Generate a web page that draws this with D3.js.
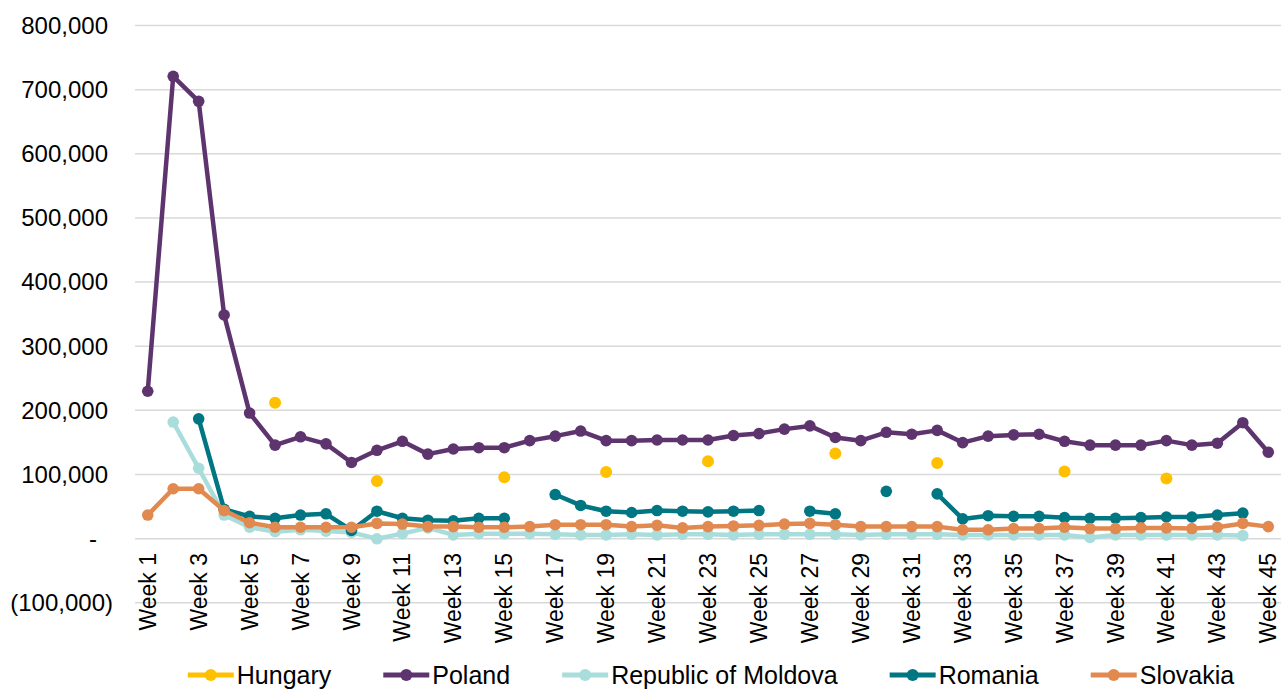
<!DOCTYPE html>
<html>
<head>
<meta charset="utf-8">
<script src="https://cdn.jsdelivr.net/npm/d3@7"></script>
<style>
  html, body { margin: 0; padding: 0; background: #fff; }
  svg { display: block; font-family: "Liberation Sans", Arial, sans-serif; }
</style>
</head>
<body>
<svg id="chart" width="1281" height="689"></svg>
<script>
const weeks = ["Week 1","Week 2","Week 3","Week 4","Week 5","Week 6","Week 7","Week 8","Week 9","Week 10",
  "Week 11","Week 12","Week 13","Week 14","Week 15","Week 16","Week 17","Week 18","Week 19","Week 20",
  "Week 21","Week 22","Week 23","Week 24","Week 25","Week 26","Week 27","Week 28","Week 29","Week 30",
  "Week 31","Week 32","Week 33","Week 34","Week 35","Week 36","Week 37","Week 38","Week 39","Week 40",
  "Week 41","Week 42","Week 43","Week 44","Week 45"];

const hungary = [null,null,null,null,null,211000,null,null,null,89000,
  null,null,null,null,95000,null,null,null,103000,null,
  null,null,120000,null,null,null,null,132000,null,null,
  null,117000,null,null,null,null,104000,null,null,null,
  93000,null,null,null,null];

const poland = [229000,720000,681000,348000,195000,145000,158000,147000,118000,137000,
  151000,131000,139000,141000,141000,152000,159000,167000,152000,152000,
  153000,153000,153000,160000,163000,170000,175000,157000,152000,165000,
  162000,168000,149000,159000,161000,162000,151000,145000,145000,145000,
  152000,145000,148000,180000,134000];

const moldova = [null,181000,109000,36000,17000,10000,13000,11000,9000,-1000,
  7000,16000,5000,7000,7000,7000,6000,5000,5000,6000,
  5000,6000,6000,5000,6000,6000,6000,6000,5000,6000,
  6000,6000,5000,5000,5000,5000,5000,1000,5000,5000,
  5000,5000,5000,4000,null];

const romania = [null,null,186000,45000,34000,31000,36000,38000,12000,42000,
  31000,28000,27000,31000,31000,null,68000,51000,42000,40000,
  43000,42000,41000,42000,43000,null,42000,38000,null,73000,
  null,69000,30000,35000,34000,34000,32000,31000,31000,32000,
  33000,33000,36000,39000,null];

const slovakia = [36000,77000,77000,43000,24000,17000,17000,17000,17000,23000,
  22000,18000,18000,17000,17000,18000,21000,21000,21000,18000,
  20000,16000,18000,19000,20000,22000,23000,21000,18000,18000,
  18000,18000,13000,13000,15000,15000,17000,15000,15000,16000,
  16000,15000,17000,23000,18000];

const yTicks = [-100000,0,100000,200000,300000,400000,500000,600000,700000,800000];

const seriesNames = ["Hungary","Poland","Republic of Moldova","Romania","Slovakia"];
const seriesValues = [hungary, poland, moldova, romania, slovakia];
const seriesColors = ["#FFC000","#5E346E","#A9DDDB","#007682","#E1894F"];

const svg = d3.select("#chart");
const plotLeft = 135, plotRight = 1281;

const x = d3.scaleBand().domain(weeks).range([plotLeft, plotRight]);
const xc = w => x(w) + x.bandwidth() / 2;
const y = d3.scaleLinear().domain([-100000, 800000]).range([602.3, 25]);

const fmtNum = d3.format(",");
const fmt = v => v < 0 ? "(" + fmtNum(-v) + ")" : (v === 0 ? "-" : fmtNum(v));

// Y axis with gridlines
const yAxis = svg.append("g")
  .attr("transform", `translate(${plotLeft},0)`)
  .call(d3.axisLeft(y).tickValues(yTicks).tickSize(-(plotRight - plotLeft)).tickFormat(fmt));
yAxis.select(".domain").remove();
yAxis.selectAll(".tick line").attr("stroke", "#d9d9d9").attr("stroke-width", 1.5);
yAxis.selectAll(".tick text")
  .attr("font-size", 24)
  .attr("fill", "#000")
  .attr("x", d => d < 0 ? -22 : (d === 0 ? -38 : -27))
  .attr("dy", "0.35em");

// X axis labels (odd weeks only)
const xAxis = svg.append("g")
  .attr("transform", `translate(0,553)`)
  .call(d3.axisBottom(x).tickSize(0).tickFormat((w, i) => i % 2 === 0 ? w : ""));
xAxis.select(".domain").remove();
xAxis.selectAll(".tick text")
  .attr("font-size", 23)
  .attr("fill", "#000")
  .attr("text-anchor", "end")
  .attr("transform", "rotate(-90)")
  .attr("x", 0)
  .attr("y", 0)
  .attr("dy", "0.35em");

// Series
const line = d3.line()
  .defined(d => d.v !== null)
  .x(d => xc(d.w))
  .y(d => y(d.v));

seriesValues.forEach((vals, si) => {
  const data = vals.map((v, i) => ({ w: weeks[i], v }));
  const g = svg.append("g");
  if (si !== 0) {
    g.append("path")
      .datum(data)
      .attr("fill", "none")
      .attr("stroke", seriesColors[si])
      .attr("stroke-width", 4.5)
      .attr("stroke-linejoin", "round")
      .attr("d", line);
  }
  g.selectAll("circle")
    .data(data.filter(d => d.v !== null))
    .join("circle")
    .attr("cx", d => xc(d.w))
    .attr("cy", d => y(d.v))
    .attr("r", si === 0 ? 6 : 5.8)
    .attr("fill", seriesColors[si]);
});

// Legend
const legend = svg.append("g");
const legendY = 675;
const items = [];
seriesNames.forEach((name, i) => {
  const g = legend.append("g");
  g.append("line")
    .attr("x1", 0).attr("x2", 46)
    .attr("y1", legendY).attr("y2", legendY)
    .attr("stroke", seriesColors[i]).attr("stroke-width", 5);
  g.append("circle")
    .attr("cx", 23).attr("cy", legendY).attr("r", 6)
    .attr("fill", seriesColors[i]);
  const t = g.append("text")
    .attr("x", 49).attr("y", legendY)
    .attr("dy", "0.35em")
    .attr("font-size", 25)
    .attr("fill", "#000")
    .text(name);
  const w = 49 + t.node().getComputedTextLength();
  items.push({ g, w });
});
const gap = 52;
const total = d3.sum(items, d => d.w) + gap * (items.length - 1);
let start = 711 - total / 2;
items.forEach(it => {
  it.g.attr("transform", `translate(${start},0)`);
  start += it.w + gap;
});
</script>
</body>
</html>
